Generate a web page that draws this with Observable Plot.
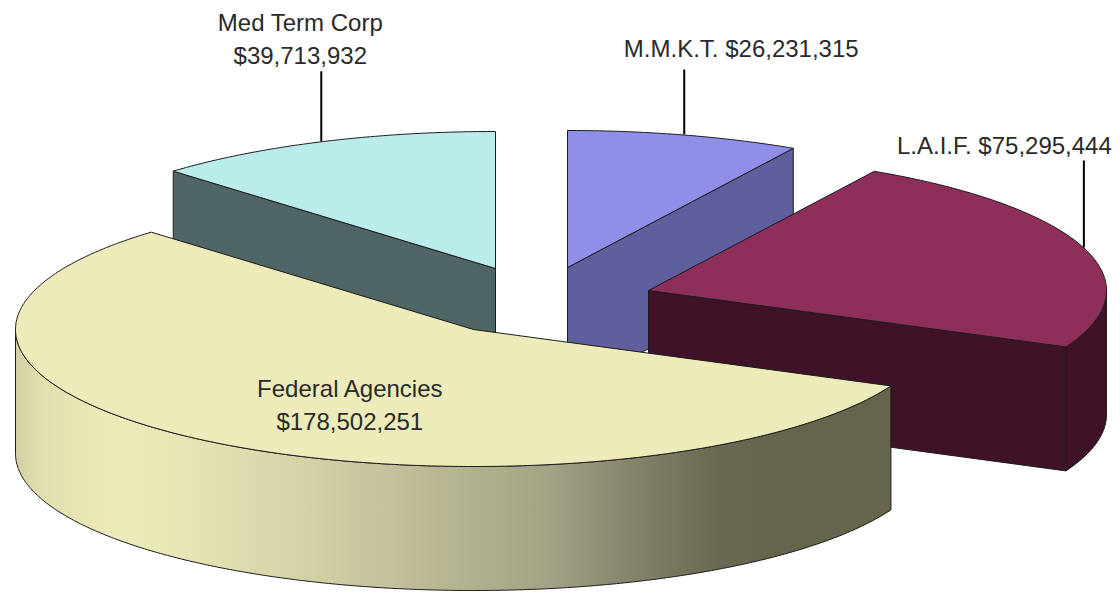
<!DOCTYPE html>
<html>
<head>
<meta charset="utf-8">
<style>html,body{margin:0;padding:0;background:#fff}svg{display:block}</style>
<script src="https://cdn.jsdelivr.net/npm/d3@7"></script>
<script src="https://cdn.jsdelivr.net/npm/@observablehq/plot@0.6"></script>
</head>
<body>
<div id="chart"></div>
<script>
// Data (clockwise from 12 o'clock)
const names = ["M.M.K.T.", "L.A.I.F.", "Federal Agencies", "Med Term Corp"];
const values = [26231315, 75295444, 178502251, 39713932];
const labelTexts = ["M.M.K.T. $26,231,315", "L.A.I.F. $75,295,444", "Federal Agencies\n$178,502,251", "Med Term Corp\n$39,713,932"];
// Styles
const topColors = ["#8f8fe9", "#8e2e5b", "#ecebb9", "#bbecec"];
const sideColors = ["#5f5f9e", "#3f1228", "url(#fedWall)", "#506565"];
const drawOrder = [3, 0, 1, 2];
// Layout of the exploded pie
const apexX = [567, 648, 473, 495];
const apexY = [267, 290, 329, 268];
const radiusX = 458, radiusY = 137, depth = 124;
const leaderLength = [65, 87, 0, 70];
const labelDx = [57, -79.5, 7, -21];
const labelDy = [-23, -17, 0, -34.5];
const labelAtRadius = [1, 1, 0.5, 1];
const labelExtraY = [0, 0, 17.5, 0];
const wallStops = [[0,"#d2cfa3"],[0.03,"#e2e0b0"],[0.12,"#ecebb9"],[0.2,"#e6e4b4"],[0.3,"#d8d6aa"],[0.42,"#c5c39c"],[0.52,"#b2b18e"],[0.61,"#a3a284"],[0.68,"#8c8b71"],[0.74,"#7a7a60"],[0.8,"#6a6a52"],[0.86,"#65654d"],[1,"#65654d"]];

const arcs = d3.pie().sort(null)(values);
const pt = (i, a, r = 1, z = 0) => ({
  x: apexX[i] + radiusX * r * Math.sin(a),
  y: apexY[i] - radiusY * r * Math.cos(a) + z
});
const rim = (i, a0, a1, z = 0) => {
  const n = Math.max(2, Math.ceil((a1 - a0) / 0.01));
  return d3.range(n + 1).map(k => pt(i, a0 + (a1 - a0) * k / n, 1, z));
};
const closed = p => [...p, p[0]];
const faces = [];
drawOrder.forEach(i => {
  const {startAngle: a0, endAngle: a1} = arcs[i];
  const apex = pt(i, 0, 0), apexLow = pt(i, 0, 0, depth);
  // cut face on the clockwise end, when it faces the viewer
  if (i !== 2 && a1 < 2 * Math.PI - 1e-6 || i === 0) {
    faces.push({pts: closed([apex, pt(i, a1), pt(i, a1, 1, depth), apexLow]), fill: sideColors[i]});
  }
  if (i === 3) {
    faces.push({pts: closed([apex, pt(i, a0), pt(i, a0, 1, depth), apexLow]), fill: sideColors[i]});
  }
  // outer wall, front half only
  const w0 = Math.max(a0, Math.PI / 2), w1 = Math.min(a1, 3 * Math.PI / 2);
  if (w1 > w0) {
    faces.push({pts: closed([...rim(i, w0, w1), ...rim(i, w0, w1, depth).reverse()]), fill: sideColors[i]});
  }
  faces.push({pts: closed([apex, ...rim(i, a0, a1)]), fill: topColors[i]});
});

const leaders = arcs.flatMap((d, i) => {
  if (!leaderLength[i]) return [];
  const m = pt(i, (d.startAngle + d.endAngle) / 2);
  return [{x: m.x, y1: m.y, y2: m.y - leaderLength[i]}];
});
const labels = arcs.map((d, i) => {
  const m = pt(i, (d.startAngle + d.endAngle) / 2, labelAtRadius[i]);
  return {
    text: labelTexts[i],
    x: m.x + labelDx[i],
    y: m.y - leaderLength[i] + labelDy[i] + labelExtraY[i]
  };
});

const gradientDefs = () => {
  const defs = d3.create("svg:defs");
  const g = defs.append("linearGradient").attr("id", "fedWall").attr("x1", 0).attr("x2", 1).attr("y1", 0).attr("y2", 0);
  wallStops.forEach(([o, c]) => g.append("stop").attr("offset", o).attr("stop-color", c));
  return defs.node();
};

const chart = Plot.plot({
  width: 1120,
  height: 592,
  margin: 0,
  style: {background: "#fff", fontFamily: "'Liberation Sans', Arial, sans-serif"},
  x: {domain: [0, 1120], range: [0, 1120], axis: null},
  y: {domain: [0, 592], range: [0, 592], axis: null},
  marks: [
    gradientDefs,
    ...faces.map(f => Plot.line(f.pts, {x: "x", y: "y", fill: f.fill, stroke: "#1c1c1c", strokeWidth: 1, curve: "linear", strokeLinejoin: "round"})),
    Plot.ruleX(leaders, {x: "x", y1: "y1", y2: "y2", stroke: "#000", strokeWidth: 2}),
    Plot.text(labels, {x: "x", y: "y", text: "text", fontSize: 24, lineHeight: 1.36, textAnchor: "middle", fill: "#2a2a2a"})
  ]
});
document.getElementById("chart").appendChild(chart);
</script>
</body>
</html>
